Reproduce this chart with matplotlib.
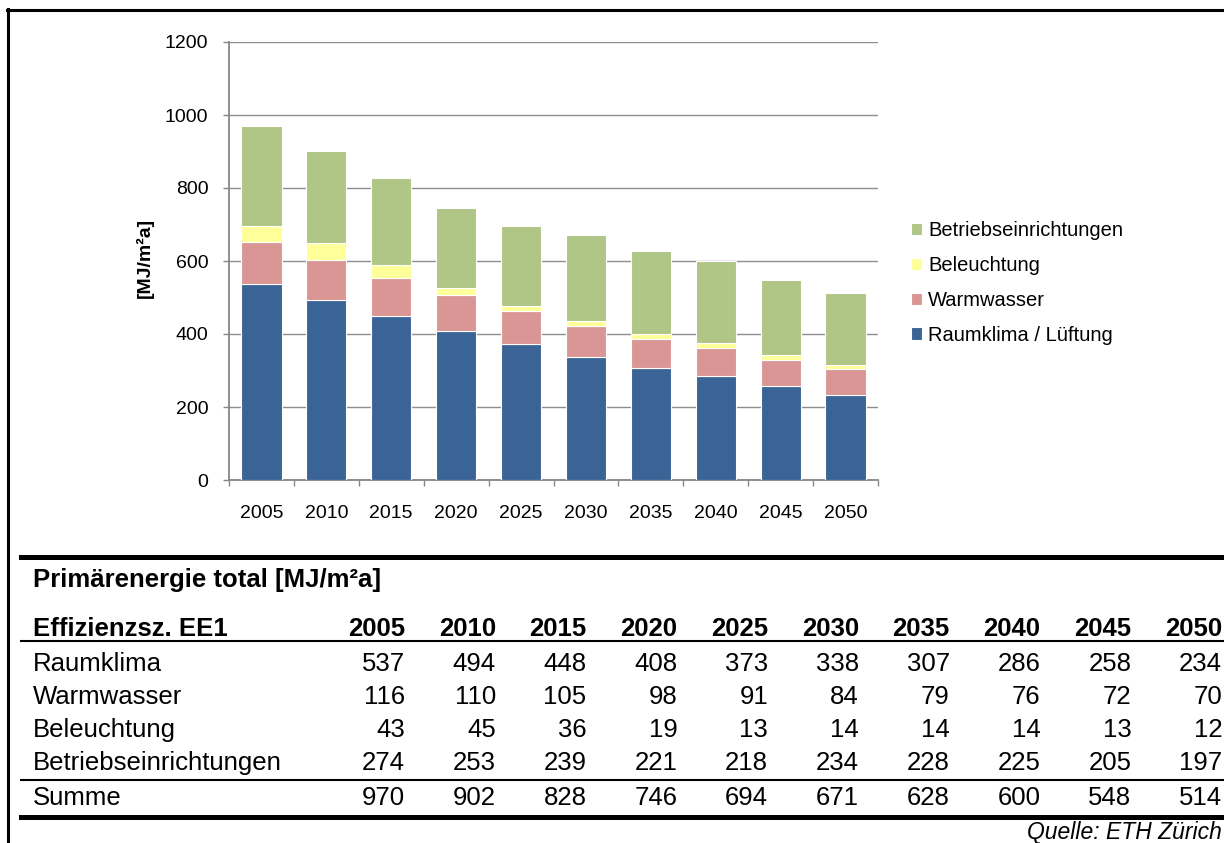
import matplotlib
matplotlib.use("Agg")
import matplotlib.pyplot as plt
from matplotlib.lines import Line2D
import numpy as np

plt.rcParams['font.family'] = ['Liberation Sans', 'DejaVu Sans']

years = ["2005", "2010", "2015", "2020", "2025", "2030", "2035", "2040", "2045", "2050"]
raumklima = [537, 494, 448, 408, 373, 338, 307, 286, 258, 234]
warmwasser = [116, 110, 105, 98, 91, 84, 79, 76, 72, 70]
beleuchtung = [43, 45, 36, 19, 13, 14, 14, 14, 13, 12]
betrieb = [274, 253, 239, 221, 218, 234, 228, 225, 205, 197]
summe = [970, 902, 828, 746, 694, 671, 628, 600, 548, 514]

series = [
    ("Raumklima / Lüftung", raumklima, "#3B6496"),
    ("Warmwasser", warmwasser, "#D99694"),
    ("Beleuchtung", beleuchtung, "#FFFF99"),
    ("Betriebseinrichtungen", betrieb, "#AFC686"),
]
table_rows = [
    ("Raumklima", raumklima),
    ("Warmwasser", warmwasser),
    ("Beleuchtung", beleuchtung),
    ("Betriebseinrichtungen", betrieb),
]

W, H = 1224, 843
fig = plt.figure(figsize=(W / 100, H / 100), dpi=100)

def fx(x):
    return x / W

def fy(y):
    return 1 - y / H

# axes placement in pixels
ax_l, ax_r, ax_t, ax_b = 229, 878, 42, 480
ax = fig.add_axes([fx(ax_l), fy(ax_b), fx(ax_r) - fx(ax_l), fy(ax_t) - fy(ax_b)])

x = np.arange(len(years))
bottom = np.zeros(len(years))
handles = []
for name, vals, col in series:
    b = ax.bar(x, vals, width=0.62, bottom=bottom, color=col, edgecolor='white',
               linewidth=0.8, label=name, zorder=3)
    handles.append(b)
    bottom += np.array(vals)

ax.set_xlim(-0.5, len(years) - 0.5)
ax.set_ylim(0, 1200)
ax.set_yticks(np.arange(0, 1201, 200))
ax.yaxis.grid(True, color='#8E8E8E', linewidth=1.0, zorder=0)
ax.set_axisbelow(True)
ax.set_xticks(x)
ax.set_xticklabels(years)
ax.set_xticks(np.arange(-0.5, len(years), 1.0), minor=True)
ax.tick_params(axis='x', which='major', length=0, pad=18, labelsize=14)
ax.tick_params(axis='x', which='minor', length=4.3, color='#868686', width=1.0, direction='out')
ax.tick_params(axis='y', which='major', length=4.3, color='#868686', width=1.0,
               pad=10.5, labelsize=14)
for s in ['top', 'right']:
    ax.spines[s].set_visible(False)
for s in ['left', 'bottom']:
    ax.spines[s].set_color('#868686')
    ax.spines[s].set_linewidth(1.3)

fig.text(fx(145), fy(258), "[MJ/m²a]", rotation=90, fontsize=14, fontweight='bold',
         ha='center', va='center')

leg = fig.legend(handles[::-1], [s[0] for s in series][::-1], loc='center left',
                 bbox_to_anchor=(fx(911), fy(283)), frameon=False, fontsize=14.5,
                 handlelength=0.55, handleheight=0.55, handletextpad=0.3,
                 labelspacing=0.78, borderpad=0, borderaxespad=0)

# Frame
fig.add_artist(Line2D([fx(8), fx(8)], [fy(8.5), fy(843)], color='black', linewidth=2.2))
fig.add_artist(Line2D([fx(7), fx(1224)], [fy(9.5), fy(9.5)], color='black', linewidth=2.2))

# Table
fs = 18.5
def tline(y, lw):
    fig.add_artist(Line2D([fx(21), fx(1224)], [fy(y), fy(y)], color='black', linewidth=lw))

tline(556.5, 3.6)
tline(641, 1.5)
tline(780, 1.5)
tline(817, 3.6)

def base(c):
    return fy(c + 8.8)

fig.text(fx(33), base(578), "Primärenergie total [MJ/m²a]", fontsize=fs, fontweight='bold',
         ha='left', va='baseline')
fig.text(fx(33), base(627), "Effizienzsz. EE1", fontsize=fs, fontweight='bold',
         ha='left', va='baseline')
col_right = [405 + 90.8 * i for i in range(len(years))]
for xr, yr in zip(col_right, years):
    fig.text(fx(xr), base(627), yr, fontsize=fs, fontweight='bold', ha='right', va='baseline')

row_centers = [662, 695, 728, 761]
for (lab, vals), yc in zip(table_rows, row_centers):
    fig.text(fx(33), base(yc), lab, fontsize=fs, ha='left', va='baseline')
    for xr, v in zip(col_right, vals):
        fig.text(fx(xr), base(yc), str(v), fontsize=fs, ha='right', va='baseline')

fig.text(fx(33), base(796), "Summe", fontsize=fs, ha='left', va='baseline')
for xr, v in zip(col_right, summe):
    fig.text(fx(xr), base(796), str(v), fontsize=fs, ha='right', va='baseline')

fig.text(fx(1222), fy(839.5), "Quelle: ETH Zürich", fontsize=16.5, style='italic',
         ha='right', va='baseline')

fig.savefig("out.png", dpi=100)
